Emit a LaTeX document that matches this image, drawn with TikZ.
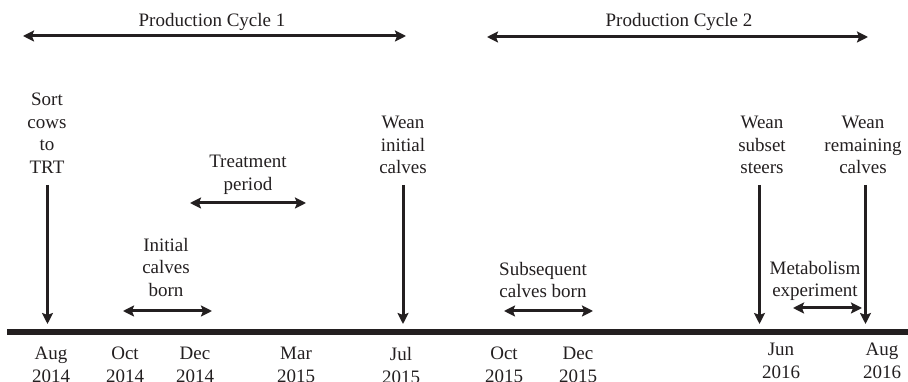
\documentclass[tikz,border=0pt]{standalone}
\usepackage{fontspec}
\setmainfont{Liberation Serif}
\usetikzlibrary{arrows.meta}
\definecolor{ink}{HTML}{231F20}
\tikzset{
  lbl/.style={font=\fontsize{19}{22.5}\selectfont, align=center, inner sep=0pt, anchor=north, text=ink},
  datelbl/.style={font=\fontsize{19}{23}\selectfont, align=center, inner sep=0pt, anchor=north, text=ink},
  evarrow/.style={draw=ink, line width=3pt, -{Stealth[length=11pt,width=11pt,inset=2pt]}},
  spanarrow/.style={draw=ink, line width=3pt, {Stealth[length=11pt,width=11pt,inset=2pt]}-{Stealth[length=11pt,width=11pt,inset=2pt]}},
  bar/.style={draw=ink, line width=5.5pt}
}
\begin{document}
\begin{tikzpicture}[x=1pt,y=1pt]
\useasboundingbox (0,0) rectangle (908,382);
% coordinates: y = 382 - pixel row
% Production cycles
\node[lbl] (pc1) at (212,{382-13}) {Production Cycle 1};
\coordinate (pc1l) at (23,{382-36});
\coordinate (pc1r) at (406,{382-36});
\draw[spanarrow] (pc1l) -- (pc1r);
\node[lbl] (pc2) at (679,{382-13}) {Production Cycle 2};
\coordinate (pc2l) at (487,{382-37});
\coordinate (pc2r) at (868,{382-37});
\draw[spanarrow] (pc2l) -- (pc2r);

% timeline bar
\coordinate (barl) at (7,{382-332});
\coordinate (barr) at (908,{382-332});
\draw[bar] (barl) -- (barr);

% events
\node[lbl] (sort) at (47,{382-93}) {Sort\\cows\\to\\TRT};
\coordinate (sortt) at (47.5,{382-185});
\coordinate (sortb) at (47.5,{382-324});
\draw[evarrow] (sortt) -- (sortb);

\node[lbl] (wean1) at (403,{382-116}) {Wean\\initial\\calves};
\coordinate (wean1t) at (403,{382-185});
\coordinate (wean1b) at (403,{382-324});
\draw[evarrow] (wean1t) -- (wean1b);

\node[lbl] (weans) at (762,{382-116}) {Wean\\subset\\steers};
\coordinate (weanst) at (759.5,{382-185});
\coordinate (weansb) at (759.5,{382-324});
\draw[evarrow] (weanst) -- (weansb);

\node[lbl] (weanr) at (863,{382-116}) {Wean\\remaining\\calves};
\coordinate (weanrt) at (865.5,{382-185});
\coordinate (weanrb) at (865.5,{382-324});
\draw[evarrow] (weanrt) -- (weanrb);

% periods
\node[lbl] (treat) at (248,{382-155}) {Treatment\\period};
\coordinate (treatl) at (190,{382-203});
\coordinate (treatr) at (306,{382-203});
\draw[spanarrow] (treatl) -- (treatr);

\node[lbl] (born1) at (166,{382-238}) {Initial\\calves\\born};
\coordinate (born1l) at (123,{382-311});
\coordinate (born1r) at (212,{382-311});
\draw[spanarrow] (born1l) -- (born1r);

\node[lbl] (born2) at (543,{382-262}) {Subsequent\\calves born};
\coordinate (born2l) at (504,{382-311});
\coordinate (born2r) at (593,{382-311});
\draw[spanarrow] (born2l) -- (born2r);

\node[lbl] (metab) at (815,{382-261}) {Metabolism\\experiment};
\coordinate (metabl) at (793,{382-308});
\coordinate (metabr) at (862,{382-308});
\draw[spanarrow] (metabl) -- (metabr);

% dates
\node[datelbl] (d1) at (51,{382-347}) {Aug\\2014};
\node[datelbl] (d2) at (125,{382-347}) {Oct\\2014};
\node[datelbl] (d3) at (195,{382-347}) {Dec\\2014};
\node[datelbl] (d4) at (296,{382-347}) {Mar\\2015};
\node[datelbl] (d5) at (401,{382-347}) {Jul\\2015};
\node[datelbl] (d6) at (504,{382-347}) {Oct\\2015};
\node[datelbl] (d7) at (578,{382-347}) {Dec\\2015};
\node[datelbl] (d8) at (781,{382-343}) {Jun\\2016};
\node[datelbl] (d9) at (882,{382-343}) {Aug\\2016};
\end{tikzpicture}
\end{document}
